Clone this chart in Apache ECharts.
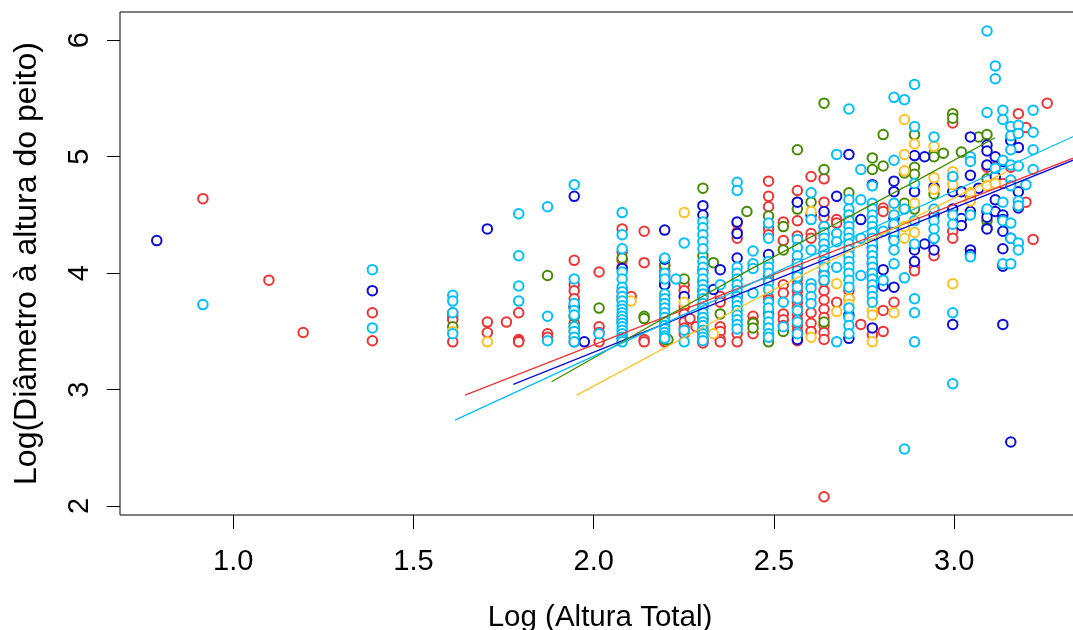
<!DOCTYPE html>
<html>
<head>
<meta charset="utf-8">
<script src="https://cdn.jsdelivr.net/npm/echarts@6/dist/echarts.min.js"></script>
<style>html,body{margin:0;padding:0;background:#fff}#c{width:1073px;height:630px}</style>
</head>
<body>
<div id="c"></div>
<script>
// Tick labels
const xTicks = [1.0, 1.5, 2.0, 2.5, 3.0];
const yTicks = [2, 3, 4, 5, 6];

// Points: [log(height), [log(dbh) values]]
const redCols = [
  [0.916,[4.64]],[1.099,[3.94]],[1.194,[3.49]],[1.386,[3.66,3.42]],
  [1.609,[3.66,3.63,3.60,3.41]],[1.705,[3.58,3.49]],[1.758,[3.58]],
  [1.792,[3.66,3.43,3.42,3.41]],[1.872,[3.48,3.45]],
  [1.946,[4.11,3.90,3.85,3.78,3.71,3.63,3.57,3.50,3.45,3.41]],
  [2.015,[4.01,3.54,3.49,3.41]],
  [2.079,[4.38,4.18,4.11,4.05,3.85,3.80,3.62,3.44]],[2.104,[3.80]],
  [2.140,[4.36,4.09,3.43,3.41]],
  [2.197,[4.06,4.02,3.98,3.93,3.46,3.43,3.41]],
  [2.251,[3.90,3.85,3.71,3.65,3.58,3.53,3.48]],[2.267,[3.61]],[2.284,[3.54]],
  [2.303,[4.02,3.93,3.80,3.72,3.60,3.52,3.47,3.43,3.41,3.40]],
  [2.351,[3.80,3.75,3.54,3.50,3.43,3.41]],
  [2.398,[4.43,4.35,4.30,3.48,3.41]],
  [2.442,[3.63,3.58,3.48]],
  [2.485,[4.79,4.66,4.57,4.38,4.33,3.98,3.95,3.79,3.77,3.65]],
  [2.526,[4.44,4.28,3.90,3.83,3.65,3.60,3.55]],
  [2.565,[4.71,4.45,4.32,4.10,4.05,4.00,3.95,3.90,3.85,3.80,3.75,3.70,3.65,3.60,3.55,3.50,3.46,3.42]],
  [2.603,[4.83,4.34,4.30,3.66,3.57,3.50]],
  [2.639,[4.81,4.61,4.48,4.40,4.33,4.25,4.18,4.10,4.00,3.93,3.85,3.77,3.69,3.62,3.55,3.49,3.43,2.08]],
  [2.674,[4.46,4.43,3.75]],[2.708,[3.85,3.78]],[2.741,[3.56]],
  [2.773,[3.88,3.47]],[2.803,[4.56,4.53,3.68,3.50]],[2.833,[3.75]],
  [2.890,[4.05,4.02]],[2.944,[4.15]],[2.996,[5.29,4.36,4.30]],
  [3.045,[4.66]],[3.091,[4.91]],[3.114,[4.91]],[3.135,[4.77]],[3.157,[4.91]],
  [3.178,[5.37,5.25]],[3.199,[5.25,4.61]],[3.219,[4.29]],[3.258,[5.46]]
];
const greenCols = [
  [1.609,[3.54]],[1.872,[3.98]],[1.946,[3.63,3.54]],[2.015,[3.70]],
  [2.079,[4.13,3.77,3.58]],[2.140,[3.63,3.61]],[2.197,[4.07,3.90,3.43]],[2.206,[3.43]],
  [2.251,[3.95]],[2.303,[4.73,4.15,3.62]],[2.332,[4.09]],[2.351,[3.65]],
  [2.425,[4.53]],[2.442,[3.57,3.53]],[2.485,[4.49,3.65,3.41]],[2.526,[4.40,4.20,3.50]],
  [2.565,[5.06,4.61,4.55,3.97]],[2.603,[4.61]],[2.639,[5.46,4.89,3.58]],
  [2.708,[4.69,4.45]],[2.773,[4.99,4.89]],[2.803,[5.19,4.92]],
  [2.862,[4.86,4.60]],[2.890,[5.19,4.91,4.85,4.55]],[2.944,[5.03,5.00,4.68]],
  [2.970,[5.03]],[2.996,[5.37,5.33,4.82]],[3.020,[5.04]],[3.045,[4.63]],
  [3.068,[5.17]],[3.091,[5.19,4.81,4.45,4.39]]
];
const blueCols = [
  [0.788,[4.28]],[1.386,[3.85]],[1.705,[4.38]],[1.946,[4.66,3.71]],[1.974,[3.41]],
  [2.079,[4.04]],[2.197,[4.37,4.12,3.90]],[2.251,[3.80]],[2.303,[4.58,4.50,3.85]],
  [2.332,[3.86]],[2.351,[4.03]],[2.398,[4.44,4.34,4.13,3.80]],[2.485,[4.16]],
  [2.565,[4.61,3.43]],[2.603,[4.50]],[2.639,[4.53]],[2.674,[4.66]],
  [2.708,[5.02,3.64,3.44]],[2.741,[4.46]],
  [2.773,[4.76,4.30,4.22,4.15,4.08,4.01,3.96,3.53]],[2.803,[4.03,3.89]],
  [2.833,[4.79,4.70,4.47,4.40,4.30,3.88]],[2.890,[5.01,4.70,4.20,4.10]],
  [2.918,[5.00,4.25]],[2.944,[4.74,4.50,4.30,4.20]],[2.996,[4.70,4.55,3.56]],
  [3.020,[4.70,4.47,4.41]],[3.045,[5.17,4.84,4.53,4.20,4.16]],[3.068,[4.73]],
  [3.091,[5.10,5.05,4.93,4.53,4.48,4.38]],[3.114,[5.00,4.83,4.63,4.53]],
  [3.135,[4.96,4.50,4.46,4.36,4.21,4.06,3.56]],[3.157,[5.14,4.30,2.55]],
  [3.178,[5.08,4.70,4.56]]
];
const orangeCols = [
  [1.609,[3.50]],[1.705,[3.41]],[2.104,[3.76]],[2.251,[4.52,3.75]],[2.332,[3.48]],
  [2.398,[3.95,3.88]],[2.603,[4.53,3.45]],[2.674,[3.91,3.67]],[2.708,[3.78,3.73]],
  [2.773,[3.68,3.64,3.41]],[2.833,[4.55,3.66]],[2.862,[5.32,5.02,4.88,4.40,4.30]],
  [2.890,[5.11,4.60,4.35]],[2.944,[5.09,4.82,4.72]],[2.996,[4.87,4.82,4.76,3.91]],
  [3.045,[4.69,4.62]],[3.091,[4.75]],[3.114,[4.77]]
];
const cyanCols = [
  [0.916,[3.73]],[1.386,[4.03,3.53]],[1.609,[3.81,3.76,3.66,3.48]],
  [1.792,[4.51,4.15,3.89,3.76]],[1.872,[4.57,3.63,3.42]],
  [1.946,[4.76,3.95,3.74,3.68,3.64,3.54,3.50,3.45,3.41]],[2.015,[3.48]],
  [2.079,[4.52,4.33,4.21,4.01,3.95,3.88,3.84,3.80,3.76,3.72,3.69,3.66,3.63,3.60,3.57,3.54,3.51,3.48,3.45,3.43,3.41]],
  [2.197,[4.13,4.00,3.95,3.82,3.78,3.74,3.70,3.66,3.62,3.58,3.55,3.52,3.49,3.46,3.44]],
  [2.228,[3.95]],[2.251,[4.26,3.51,3.41]],
  [2.303,[4.44,4.39,4.33,4.27,4.21,4.10,4.05,4.00,3.95,3.90,3.86,3.82,3.78,3.74,3.70,3.66,3.62,3.58,3.55,3.51,3.48,3.45,3.42]],
  [2.351,[3.90]],
  [2.398,[4.78,4.71,4.05,4.00,3.95,3.90,3.85,3.80,3.76,3.72,3.68,3.64,3.60,3.56,3.52]],
  [2.442,[4.19,4.08,4.04,3.83]],
  [2.485,[4.43,4.30,4.10,4.05,4.00,3.92,3.86,3.75,3.70,3.63,3.58,3.53,3.48,3.45]],
  [2.526,[3.75,3.54]],
  [2.565,[4.29,4.22,4.15,4.08,4.02,3.97,3.88,3.78,3.68,3.58,3.48]],
  [2.603,[4.69,4.46,4.20,3.91,3.87,3.80,3.74]],
  [2.639,[4.40,4.35,4.30,4.25,4.20,4.15,4.10,4.05,3.98,3.94]],
  [2.674,[5.02,4.34,4.27,4.05,3.41]],
  [2.708,[5.41,4.63,4.55,4.50,4.45,4.40,4.35,4.30,4.25,4.20,4.15,4.10,4.05,4.00,3.94,3.88,3.70,3.62,3.55,3.48]],
  [2.741,[4.89,4.63,4.30,3.98]],
  [2.773,[4.75,4.60,4.55,4.50,4.45,4.40,4.35,4.30,4.25,4.20,4.15,4.10,4.05,4.00,3.95,3.90,3.85,3.80,3.75]],
  [2.803,[4.36,3.94]],[2.833,[5.51,4.97,4.60,4.50,4.42,4.35,4.28,4.20,4.08]],
  [2.862,[5.49,4.55,3.96,2.49]],[2.890,[5.62,5.26,4.77,4.45,4.25,3.78,3.66,3.41]],
  [2.944,[5.17,4.55,4.45,4.38,4.30]],[2.996,[4.83,4.50,4.42,3.66,3.05]],
  [3.045,[5.00,4.96,4.50,4.14]],[3.091,[6.08,5.38,4.55]],[3.114,[5.78,5.67,4.90]],
  [3.135,[5.40,5.32,4.97,4.61,4.45,4.08]],
  [3.157,[5.26,5.18,5.06,4.93,4.80,4.75,4.43,4.30,4.08]],
  [3.178,[5.27,5.20,4.92,4.62,4.58,4.26,4.20]],[3.199,[4.76]],
  [3.219,[5.40,5.21,5.06,4.89]]
];

// Fitted lines: [x, y]
const redLine = [[1.643,2.953],[2.50,3.99],[3.349,5.01]];
const blueLine = [[1.777,3.045],[2.50,3.94],[3.33,4.97]];
const greenLine = [[1.883,3.067],[2.433,4.03],[2.905,4.81],[3.113,5.163]];
const orangeLine = [[1.953,2.953],[2.461,3.797],[2.905,4.50],[3.145,4.87]];
const cyanLine = [[1.615,2.738],[2.50,4.00],[3.349,5.20]];

const flat = cols => cols.flatMap(([x, ys]) => ys.map(y => [x, y]));

const FONT = 'Liberation Sans, Arial, sans-serif';
const sc = (data, color) => ({
  type: 'scatter', data: flat(data), symbol: 'emptyCircle', symbolSize: 9.5,
  itemStyle: { color: color, borderColor: color, borderWidth: 1.3, opacity: 1 },
  emphasis: { disabled: true }, silent: true, z: 2
});
const ln = (data, color) => ({
  type: 'line', data: data, showSymbol: false, symbol: 'none',
  lineStyle: { color: color, width: 1.3 }, silent: true, z: 5, clip: true
});

const chart = echarts.init(document.getElementById('c'), null, { renderer: 'canvas' });
chart.setOption({
  animation: false,
  backgroundColor: '#fff',
  grid: { left: 120, top: 12, width: 960, height: 503, containLabel: false, outerBoundsMode: 'none', show: true, borderColor: '#000', borderWidth: 1, backgroundColor: 'transparent' },
  xAxis: {
    type: 'value', min: 0.686, max: 3.349,
    name: 'Log (Altura Total)', nameLocation: 'middle', nameGap: 88,
    nameTextStyle: { fontFamily: FONT, fontSize: 29.5, color: '#000' },
    axisLine: { show: false }, splitLine: { show: false },
    axisTick: { show: true, inside: false, length: 14, customValues: xTicks, lineStyle: { color: '#000', width: 1 } },
    axisLabel: { customValues: xTicks, margin: 32, fontFamily: FONT, fontSize: 29, color: '#000', formatter: v => v.toFixed(1) }
  },
  yAxis: {
    type: 'value', min: 1.923, max: 6.243,
    name: 'Log(Diâmetro à altura do peito)', nameLocation: 'middle', nameGap: 77,
    nameTextStyle: { fontFamily: FONT, fontSize: 32, color: '#000' },
    axisLine: { show: false }, splitLine: { show: false },
    axisTick: { show: true, inside: false, length: 13, customValues: yTicks, lineStyle: { color: '#000', width: 1 } },
    axisLabel: { customValues: yTicks, rotate: 90, margin: 26, fontFamily: FONT, fontSize: 29, color: '#000', formatter: v => String(v) }
  },
  series: [
    sc(redCols, '#EE3333'),
    sc(greenCols, '#458B00'),
    sc(blueCols, '#0A0ADC'),
    sc(orangeCols, '#FFC125'),
    sc(cyanCols, '#00BFFF'),
    ln(redLine, '#EE3333'),
    ln(blueLine, '#0A0ADC'),
    ln(greenLine, '#458B00'),
    ln(orangeLine, '#FFC125'),
    ln(cyanLine, '#00BFFF')
  ]
});
</script>
</body>
</html>
